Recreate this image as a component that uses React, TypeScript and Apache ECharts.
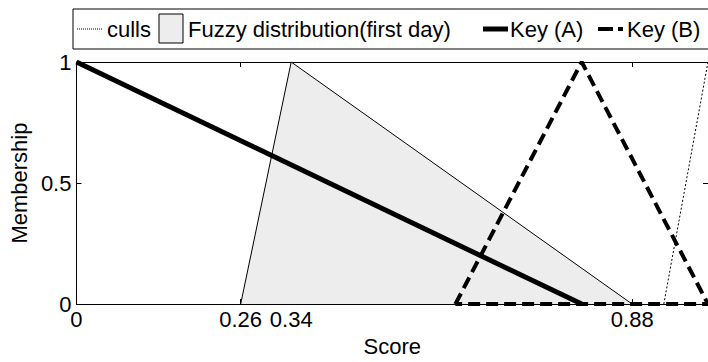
import React, { useEffect, useRef } from "react";
import * as echarts from "echarts";

const xTicks = [0, 0.26, 0.34, 0.88];
const yTicks = [0, 0.5, 1];
const cullsX = [0.93, 1.0];
const cullsY = [0, 1];
const fuzzyX = [0.26, 0.34, 0.88];
const fuzzyY = [0, 1, 0];
const keyAX = [0, 0.8];
const keyAY = [1, 0];
const keyBX = [0.6, 0.8, 1.0, 0.6];
const keyBY = [0, 1, 0, 0];
const legendNames = ["culls", "Fuzzy distribution(first day)", "Key (A)", "Key (B)"];

const FONT = "'Liberation Sans', Arial, Helvetica, sans-serif";
const zip = (xs: number[], ys: number[]) => xs.map((x, i) => [x, ys[i]]);

export default function App() {
  const ref = useRef<HTMLDivElement>(null);
  useEffect(() => {
    if (!ref.current) return;
    const chart = echarts.init(ref.current, null, { renderer: "svg" });
    const axisLine = { show: true, onZero: false, lineStyle: { color: "#000", width: 1 } };
    const tickIn = { show: true, inside: true, length: 5, lineStyle: { color: "#000", width: 1 } };
    const labelStyle = { color: "#000", fontSize: 22, fontFamily: FONT };
    const ly = 29;
    const lf = `22px ${FONT}`;
    chart.setOption({
      animation: false,
      grid: { left: 73, top: 62, right: -5, bottom: 48, containLabel: false },
      xAxis: [
        {
          type: "value",
          min: 0,
          max: 1,
          position: "bottom",
          axisLine,
          axisTick: { ...tickIn, customValues: xTicks },
          axisLabel: { ...labelStyle, margin: 4, customValues: xTicks, hideOverlap: false },
          splitLine: { show: false },
          name: "Score",
          nameLocation: "middle",
          nameGap: 24,
          nameTextStyle: labelStyle,
        },
        {
          type: "value",
          min: 0,
          max: 1,
          position: "top",
          axisLine,
          axisTick: { ...tickIn, customValues: xTicks },
          axisLabel: { show: false },
          splitLine: { show: false },
        },
      ],
      yAxis: [
        {
          type: "value",
          min: 0,
          max: 1,
          interval: 0.5,
          position: "left",
          axisLine,
          axisTick: { ...tickIn, customValues: yTicks },
          axisLabel: { ...labelStyle, margin: 5, customValues: yTicks },
          splitLine: { show: false },
          name: "Membership",
          nameLocation: "middle",
          nameRotate: 90,
          nameGap: 38,
          nameTextStyle: labelStyle,
        },
        {
          type: "value",
          min: 0,
          max: 1,
          interval: 0.5,
          position: "right",
          axisLine,
          axisTick: { ...tickIn, customValues: yTicks },
          axisLabel: { show: false },
          splitLine: { show: false },
        },
      ],
      series: [
        {
          name: legendNames[0],
          type: "line",
          data: zip(cullsX, cullsY),
          symbol: "none",
          lineStyle: { color: "#000", width: 1, type: [2, 2] },
          z: 2,
        },
        {
          name: legendNames[1],
          type: "line",
          data: zip(fuzzyX, fuzzyY),
          symbol: "none",
          lineStyle: { color: "#000", width: 1 },
          areaStyle: { color: "#ededed", opacity: 1 },
          z: 1,
        },
        {
          name: legendNames[2],
          type: "line",
          data: zip(keyAX, keyAY),
          symbol: "none",
          lineStyle: { color: "#000", width: 5, cap: "butt" },
          z: 3,
        },
        {
          name: legendNames[3],
          type: "line",
          data: zip(keyBX, keyBY),
          symbol: "none",
          lineStyle: { color: "#000", width: 4, type: [12, 6] },
          z: 4,
        },
      ],
      graphic: [
        {
          type: "rect",
          shape: { x: 73, y: 9, width: 700, height: 40 },
          style: { fill: "#fff", stroke: "#000", lineWidth: 1 },
          z: 10,
        },
        {
          type: "line",
          shape: { x1: 77, y1: ly, x2: 102, y2: ly },
          style: { stroke: "#000", lineWidth: 1, lineDash: [1, 1] },
          z: 11,
        },
        {
          type: "text",
          x: 107,
          y: ly,
          style: { text: legendNames[0], fill: "#000", font: lf, verticalAlign: "middle" },
          z: 11,
        },
        {
          type: "rect",
          shape: { x: 159, y: 14, width: 24, height: 29 },
          style: { fill: "#ededed", stroke: "#000", lineWidth: 1 },
          z: 11,
        },
        {
          type: "text",
          x: 188,
          y: ly,
          style: { text: legendNames[1], fill: "#000", font: lf, verticalAlign: "middle" },
          z: 11,
        },
        {
          type: "line",
          shape: { x1: 483, y1: ly, x2: 508, y2: ly },
          style: { stroke: "#000", lineWidth: 5 },
          z: 11,
        },
        {
          type: "text",
          x: 510,
          y: ly,
          style: { text: legendNames[2], fill: "#000", font: lf, verticalAlign: "middle" },
          z: 11,
        },
        {
          type: "line",
          shape: { x1: 598, y1: ly, x2: 623, y2: ly },
          style: { stroke: "#000", lineWidth: 4, lineDash: [15, 5] },
          z: 11,
        },
        {
          type: "text",
          x: 627,
          y: ly,
          style: { text: legendNames[3], fill: "#000", font: lf, verticalAlign: "middle" },
          z: 11,
        },
      ],
    });
    return () => chart.dispose();
  }, []);
  return (
    <div
      ref={ref}
      style={{ position: "fixed", left: 0, top: 0, width: 708, height: 362, background: "#fff" }}
    />
  );
}
